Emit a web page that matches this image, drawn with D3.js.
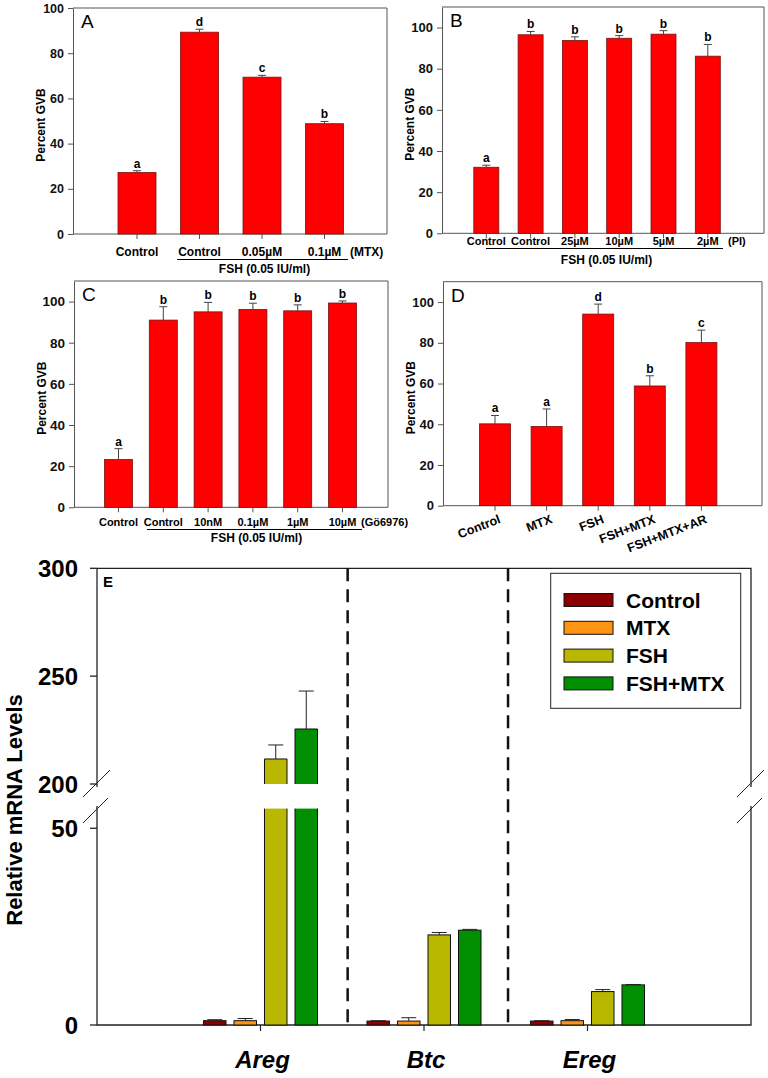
<!DOCTYPE html>
<html><head><meta charset="utf-8">
<script src="https://cdn.jsdelivr.net/npm/d3@7"></script>
<style>body{margin:0;background:#fff}svg{display:block}text{font-family:"Liberation Sans",Arial,sans-serif}</style>
</head><body>
<svg id="c" width="768" height="1078"></svg>
<script>
// ---------- DATA ----------
const panelTicks = [0, 20, 40, 60, 80, 100];

const aLabels = ["Control", "Control", "0.05µM", "0.1µM"];
const aValues = [27.2, 89.3, 69.4, 48.8];
const aErrors = [0.8, 1.3, 0.8, 1.0];
const aLetters = ["a", "d", "c", "b"];

const bLabels = ["Control", "Control", "25µM", "10µM", "5µM", "2µM"];
const bValues = [32.1, 96.5, 93.7, 94.8, 96.8, 86.1];
const bErrors = [1.0, 1.6, 1.8, 1.3, 1.7, 5.7];
const bLetters = ["a", "b", "b", "b", "b", "b"];

const cLabels = ["Control", "Control", "10nM", "0.1µM", "1µM", "10µM"];
const cValues = [23.2, 91.0, 95.0, 96.2, 95.5, 99.3];
const cErrors = [5.3, 6.5, 4.6, 3.0, 2.9, 1.0];
const cLetters = ["a", "b", "b", "b", "b", "b"];

const dLabels = ["Control", "MTX", "FSH", "FSH+MTX", "FSH+MTX+AR"];
const dValues = [40.2, 38.9, 94.1, 58.8, 80.1];
const dErrors = [4.1, 8.6, 4.9, 5.0, 6.1];
const dLetters = ["a", "a", "d", "b", "c"];

const eGenes = ["Areg", "Btc", "Ereg"];
const eSeries = ["Control", "MTX", "FSH", "FSH+MTX"];
const eColors = ["#8b0000", "#ff9412", "#b9b700", "#008f00"];
const eControl = [1.1, 1.0, 1.0];
const eControlErr = [0.25, 0.1, 0.1];
const eMTX = [1.1, 1.0, 1.1];
const eMTXErr = [0.55, 0.85, 0.3];
const eFSH = [211.6, 22.9, 8.5];
const eFSHErr = [6.5, 0.6, 0.5];
const eFSHMTX = [225.5, 24.1, 10.2];
const eFSHMTXErr = [17.6, 0.2, 0.1];
const eUpperTicks = [200, 250, 300];
const eLowerTicks = [0, 50];

// ---------- DRAW ----------
const svg = d3.select("#c");
svg.append("rect").attr("width", 768).attr("height", 1078).attr("fill", "#fff");
const FRAME = "#555";

function panel(cfg) {
  const g = svg.append("g");
  const n = cfg.values.length;
  const y = d3.scaleLinear().domain([0, cfg.ymax]).range([cfg.bottom, cfg.top]);
  const pi = 1 - cfg.bw / cfg.step;
  const x = d3.scaleBand().domain(d3.range(n))
    .range([cfg.c0 - cfg.step / 2, cfg.c0 - cfg.step / 2 + n * cfg.step])
    .paddingInner(pi).paddingOuter(pi / 2);
  const cx = i => x(i) + x.bandwidth() / 2;

  g.append("path").attr("d", `M${cfg.left},${cfg.top}H${cfg.right}V${cfg.bottom}H${cfg.left}`)
    .attr("fill", "none").attr("stroke", FRAME).attr("stroke-width", 1);

  const ya = g.append("g").attr("transform", `translate(${cfg.left},0)`)
    .call(d3.axisLeft(y).tickValues(panelTicks).tickSize(5).tickSizeOuter(0).tickPadding(4));
  ya.selectAll("path,line").attr("stroke", FRAME);
  ya.selectAll("text").attr("font-size", cfg.tickFs).attr("font-weight", "bold")
    .attr("fill", "#111").attr("font-family", '"Liberation Sans",Arial,sans-serif');

  const xa = g.append("g").attr("transform", `translate(0,${cfg.bottom})`)
    .call(d3.axisBottom(x).tickSize(5).tickFormat(""));
  xa.select(".domain").remove();
  xa.selectAll("line").attr("stroke", FRAME);

  g.selectAll("rect.bar").data(cfg.values).join("rect").attr("class", "bar")
    .attr("x", (d, i) => x(i)).attr("width", x.bandwidth())
    .attr("y", d => y(d)).attr("height", d => cfg.bottom - y(d))
    .attr("fill", "#ff0000").attr("stroke", "#7a1010").attr("stroke-width", 0.8);

  cfg.values.forEach((v, i) => {
    const e = cfg.errors[i];
    const c = cx(i);
    g.append("line").attr("x1", c).attr("x2", c).attr("y1", y(v)).attr("y2", y(v + e))
      .attr("stroke", "#444").attr("stroke-width", 1);
    g.append("line").attr("x1", c - 4).attr("x2", c + 4).attr("y1", y(v + e)).attr("y2", y(v + e))
      .attr("stroke", "#444").attr("stroke-width", 1);
    g.append("text").attr("x", c).attr("y", y(v + e) - 3).attr("text-anchor", "middle")
      .attr("font-size", 12).attr("font-weight", "bold").text(cfg.letters[i]);
  });

  g.append("text").attr("x", cfg.left + 8).attr("y", cfg.top + 20).attr("font-size", 19)
    .text(cfg.name);

  g.append("text").attr("transform", `translate(${cfg.left - 28},${(cfg.top + cfg.bottom) / 2 + 4}) rotate(-90)`)
    .attr("text-anchor", "middle").attr("font-size", 12).attr("font-weight", "bold").text("Percent GVB");

  if (cfg.rotate) {
    cfg.labels.forEach((l, i) => {
      g.append("text").attr("transform", `translate(${cx(i) + 3},${cfg.bottom + 8}) rotate(-21)`)
        .attr("text-anchor", "end").attr("dy", "0.75em")
        .attr("font-size", 12.5).attr("font-weight", "bold").text(l);
    });
  } else {
    cfg.labels.forEach((l, i) => {
      g.append("text").attr("x", cx(i)).attr("y", cfg.labelY).attr("text-anchor", "middle")
        .attr("font-size", cfg.labelFs).attr("font-weight", "bold").text(l);
    });
    g.append("text").attr("x", cfg.suffixX).attr("y", cfg.labelY).attr("font-size", cfg.labelFs)
      .attr("font-weight", "bold").text(cfg.suffix);
    g.append("line").attr("x1", cfg.ul[0]).attr("x2", cfg.ul[1]).attr("y1", cfg.ulY).attr("y2", cfg.ulY)
      .attr("stroke", "#000").attr("stroke-width", 1);
    g.append("text").attr("x", (cfg.ul[0] + cfg.ul[1]) / 2 + 2).attr("y", cfg.fshY).attr("text-anchor", "middle")
      .attr("font-size", 12).attr("font-weight", "bold").text("FSH (0.05 IU/ml)");
  }
}

panel({ name: "A", values: aValues, errors: aErrors, letters: aLetters, labels: aLabels,
  left: 73, right: 387, top: 8, bottom: 234, ymax: 100, c0: 137, step: 62.5, bw: 38,
  tickFs: 12.5, labelFs: 12, labelY: 256, suffix: "(MTX)", suffixX: 350, ul: [177, 348], ulY: 259.5, fshY: 273 });

panel({ name: "B", values: bValues, errors: bErrors, letters: bLetters, labels: bLabels,
  left: 442, right: 764, top: 7, bottom: 233.3, ymax: 110, c0: 486.3, step: 44.3, bw: 25,
  tickFs: 13, labelFs: 11, labelY: 245, suffix: "(PI)", suffixX: 728, ul: [486, 723], ulY: 248.5, fshY: 264 });

panel({ name: "C", values: cValues, errors: cErrors, letters: cLetters, labels: cLabels,
  left: 74, right: 388, top: 281, bottom: 507.3, ymax: 110, c0: 118.5, step: 44.8, bw: 28,
  tickFs: 13.5, labelFs: 11, labelY: 525.5, suffix: "(Gö6976)", suffixX: 361, ul: [147, 362], ulY: 529.5, fshY: 542 });

panel({ name: "D", values: dValues, errors: dErrors, letters: dLetters, labels: dLabels,
  left: 443, right: 762, top: 281.7, bottom: 505.7, ymax: 110, c0: 495, step: 51.6, bw: 31,
  tickFs: 13, rotate: true });

// ---------- PANEL E ----------
(function () {
  const g = svg.append("g");
  const L = 97, R = 751, T = 568.3, B = 1025;
  const xE = d3.scaleLinear().domain([0, 4]).range([L, R]);
  const inner = d3.scaleBand().domain(eSeries).range([-61, 61]).paddingInner(0.262).paddingOuter(0.131);
  const yLow = d3.scaleLinear().domain([0, 55]).range([B, 808.6]);
  const yUp = d3.scaleLinear().domain([200, 300]).range([784, T]);
  const lowMax = 55, upMin = 200;
  const yOf = v => v >= upMin ? yUp(v) : yLow(v);

  g.append("path").attr("d", `M${L},${T}H${R}V787`).attr("fill", "none").attr("stroke", "#222").attr("stroke-width", 1.3);
  g.append("path").attr("d", `M${R},806V${B}H${L}V806`).attr("fill", "none").attr("stroke", "#222").attr("stroke-width", 1.3);
  g.append("path").attr("d", `M${L},787V${T}`).attr("fill", "none").attr("stroke", "#222").attr("stroke-width", 1.3);
  [[L - 14, L + 13], [R - 14, R + 13]].forEach(([a, b]) => {
    g.append("line").attr("x1", a).attr("y1", 797).attr("x2", b).attr("y2", 770).attr("stroke", "#222").attr("stroke-width", 1);
    g.append("line").attr("x1", a).attr("y1", 823).attr("x2", b - 2).attr("y2", 798).attr("stroke", "#222").attr("stroke-width", 1);
  });

  const tickG = g.append("g");
  eUpperTicks.forEach(t => {
    tickG.append("line").attr("x1", L - 7).attr("x2", L).attr("y1", yUp(t)).attr("y2", yUp(t)).attr("stroke", "#222").attr("stroke-width", 1.3);
    tickG.append("text").attr("x", L - 19).attr("y", yUp(t) + 8.5).attr("text-anchor", "end")
      .attr("font-size", 24).attr("font-weight", "bold").text(t);
  });
  eLowerTicks.forEach(t => {
    tickG.append("line").attr("x1", L - 7).attr("x2", L).attr("y1", yLow(t)).attr("y2", yLow(t)).attr("stroke", "#222").attr("stroke-width", 1.3);
    tickG.append("text").attr("x", L - 19).attr("y", yLow(t) + 8.5).attr("text-anchor", "end")
      .attr("font-size", 24).attr("font-weight", "bold").text(t);
  });

  [1.533, 2.514].forEach(p => {
    g.append("line").attr("x1", xE(p)).attr("x2", xE(p)).attr("y1", T).attr("y2", B)
      .attr("stroke", "#111").attr("stroke-width", 2.5).attr("stroke-dasharray", "13,8");
  });

  eGenes.forEach((gname, gi) => {
    const c = xE(gi + 1);
    g.append("line").attr("x1", c).attr("x2", c).attr("y1", B).attr("y2", B + 6).attr("stroke", "#222").attr("stroke-width", 1.2);
    g.append("text").attr("x", c + 2).attr("y", 1068).attr("text-anchor", "middle")
      .attr("font-size", 24).attr("font-weight", "bold").attr("font-style", "italic").text(gname);
  });

  const allVals = [eControl, eMTX, eFSH, eFSHMTX];
  const allErr = [eControlErr, eMTXErr, eFSHErr, eFSHMTXErr];
  eSeries.forEach((s, si) => {
    eGenes.forEach((gname, gi) => {
      const v = allVals[si][gi], e = allErr[si][gi];
      const x0 = xE(gi + 1) + inner(s), w = inner.bandwidth();
      const col = eColors[si];
      if (v <= lowMax) {
        g.append("rect").attr("x", x0).attr("y", yLow(v)).attr("width", w).attr("height", B - yLow(v))
          .attr("fill", col).attr("stroke", "#111").attr("stroke-width", 1);
      } else {
        const yt = yLow(lowMax);
        g.append("rect").attr("x", x0).attr("y", yt).attr("width", w).attr("height", B - yt).attr("fill", col);
        g.append("path").attr("d", `M${x0},${yt}V${B}H${x0 + w}V${yt}`).attr("fill", "none").attr("stroke", "#111").attr("stroke-width", 1);
        const yu = yUp(v), yb = yUp(upMin);
        g.append("rect").attr("x", x0).attr("y", yu).attr("width", w).attr("height", yb - yu).attr("fill", col);
        g.append("path").attr("d", `M${x0},${yb}V${yu}H${x0 + w}V${yb}`).attr("fill", "none").attr("stroke", "#111").attr("stroke-width", 1);
      }
      const c = x0 + w / 2;
      const y1 = yOf(v), y2 = yOf(v + e);
      g.append("line").attr("x1", c).attr("x2", c).attr("y1", y1).attr("y2", y2).attr("stroke", "#222").attr("stroke-width", 1);
      g.append("line").attr("x1", c - 7.5).attr("x2", c + 7.5).attr("y1", y2).attr("y2", y2).attr("stroke", "#222").attr("stroke-width", 1);
    });
  });

  g.append("text").attr("x", L + 6).attr("y", 587).attr("font-size", 15).attr("font-weight", "bold").text("E");

  g.append("text").attr("transform", "translate(22,810) rotate(-90)").attr("text-anchor", "middle")
    .attr("font-size", 22).attr("font-weight", "bold").text("Relative mRNA Levels");

  const lg = g.append("g");
  lg.append("rect").attr("x", 550.7).attr("y", 573.3).attr("width", 190).attr("height", 135)
    .attr("fill", "#fff").attr("stroke", "#222").attr("stroke-width", 1);
  eSeries.forEach((s, i) => {
    const cy = 600 + i * 27.8;
    lg.append("rect").attr("x", 564).attr("y", cy - 6.5).attr("width", 49).attr("height", 13)
      .attr("fill", eColors[i]).attr("stroke", "#111").attr("stroke-width", 1);
    lg.append("text").attr("x", 626).attr("y", cy + 7.5).attr("font-size", 21).attr("font-weight", "bold").text(s);
  });
})();
</script>
</body></html>
